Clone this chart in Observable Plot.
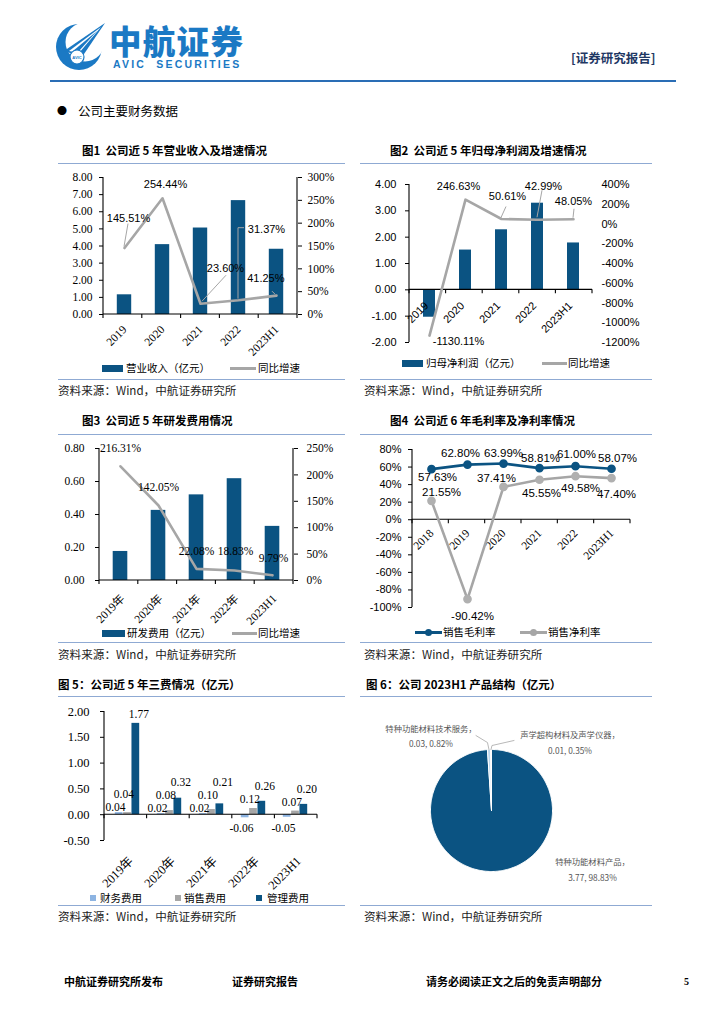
<!DOCTYPE html>
<html lang="zh-CN">
<head>
<meta charset="utf-8">
<script src="https://cdn.jsdelivr.net/npm/d3@7"></script>
<script src="https://cdn.jsdelivr.net/npm/@observablehq/plot@0.6"></script>
<style>
html,body{margin:0;padding:0;background:#fff;}
#page{position:relative;width:724px;height:1024px;overflow:hidden;background:#fff;font-family:"Noto Sans CJK SC","Noto Sans",sans-serif;color:#000;}
</style>
</head>
<body>
<div id="page"></div>
<script>
// ---------------- data ----------------
const years5 = ["2019", "2020", "2021", "2022", "2023H1"];
const revenue = [1.15, 4.08, 5.05, 6.65, 3.81];
const revenueGrowth = [145.51, 254.44, 23.60, 31.37, 41.25];
const revTicks = [0, 1, 2, 3, 4, 5, 6, 7, 8];
const revPctTicks = [0, 50, 100, 150, 200, 250, 300];

const profit = [-1.04, 1.51, 2.28, 3.29, 1.78];
const profitGrowth = [-1130.11, 246.63, 50.61, 42.99, 48.05];
const profitTicks = [-2, -1, 0, 1, 2, 3, 4];
const profitPctTicks = [-1200, -1000, -800, -600, -400, -200, 0, 200, 400];

const rdYears = ["2019年", "2020年", "2021年", "2022年", "2023H1"];
const rdExpense = [0.176, 0.425, 0.519, 0.617, 0.328];
const rdGrowth = [216.31, 142.05, 22.08, 18.83, 9.79];
const rdTicks = [0, 0.2, 0.4, 0.6, 0.8];
const rdPctTicks = [0, 50, 100, 150, 200, 250];

const years6 = ["2018", "2019", "2020", "2021", "2022", "2023H1"];
const grossMargin = [57.63, 62.80, 63.99, 58.81, 61.00, 58.07];
const netMargin = [21.55, -90.42, 37.41, 45.55, 49.58, 47.40];
const marginTicks = [-100, -80, -60, -40, -20, 0, 20, 40, 60, 80];

const feeYears = ["2019年", "2020年", "2021年", "2022年", "2023H1"];
const feeSeries = ["财务费用", "销售费用", "管理费用"];
const financeFee = [0.04, 0.02, 0.02, -0.06, -0.05];
const salesFee = [0.04, 0.08, 0.10, 0.12, 0.07];
const adminFee = [1.77, 0.32, 0.21, 0.26, 0.20];
const feeTicks = [-0.5, 0, 0.5, 1, 1.5, 2];

const productNames = ["特种功能材料产品", "特种功能材料技术服务", "声学超构材料及声学仪器"];
const productValues = [3.77, 0.03, 0.01];
const productShares = [98.83, 0.82, 0.35];

// ---------------- layout / style ----------------
const BLUE = "#0b5382", GREY = "#a6a6a6", LBLUE = "#8db4e2", RULE = "#8faad3";
const SERIF = '"Liberation Serif","Noto Sans CJK SC",serif';
const SANS = '"Liberation Sans","Noto Sans CJK SC",sans-serif';
const CJK = '"Noto Sans CJK SC",sans-serif';
const NS = "http://www.w3.org/2000/svg";
const page = document.getElementById("page");

// pixel offsets of data labels relative to their points [dx, dy]
const c1LabelOff = [[4, -30], [3, -13.5], [25, -35.5], [28, -71], [-10.7, -17]];
const c1LeaderOff = [[[4, -24], [0, -1]], null, [[2, -2], [26, -28]], [[0, -1], [0, -72], [6, -72]], [[-4, -4], [-1, -1]]];
const c2LabelOff = [[29, 6], [-7, -13], [6, -23], [6, -33], [0, -18]];
const c2LeaderOff = [null, null, [[0, -1], [5, -12]], [[0, -2], [5, -29]], [[0, -1], [1, -10]]];
const c3LabelOff = [[0, -17.7], [0, -18], [0, -18], [1, -19], [1, -17]];
const c4GrossOff = [[6, 8], [-7, -11], [0, -10], [1, -10], [1, -11.5], [6, -10.6]];
const c4NetOff = [[10, -8], [5, 17], [-7, -9], [2, 14], [5, 12], [5, 16.6]];
const pieLabelOff = [[99, -3.5], [-58, -15], [79, -8.5]];
const pieLeaderOff = [null, [[0, 0], [-1.5, -7], [-13, -14]], [[0, 0], [1, -4], [23, -9]]];

function label(x, yc, str, css, h = 20) {
  const d = document.createElement("div");
  d.textContent = str;
  d.style.cssText = `position:absolute;left:${x}px;top:${yc - h / 2}px;height:${h}px;line-height:${h}px;white-space:pre;${css || ""}`;
  page.appendChild(d);
  return d;
}
function box(x, y, w, h, color, extra) {
  const d = document.createElement("div");
  d.style.cssText = `position:absolute;left:${x}px;top:${y}px;width:${w}px;height:${h}px;background:${color};${extra || ""}`;
  page.appendChild(d);
  return d;
}
function mount(svg, x, y) {
  svg.style.position = "absolute";
  svg.style.left = x + "px";
  svg.style.top = y + "px";
  page.appendChild(svg);
}
function plotStyle(font, size) {
  return {fontFamily: font, fontSize: size + "px", color: "#000", background: "transparent", overflow: "visible"};
}

// axis lines (left/right/zero-or-bottom) + category tick marks, drawn from the plot's scales
function frameLines({left = false, right = false, zero = null, tick = 4}) {
  return (index, scales, values, dim, ctx) => {
    const doc = (ctx && ctx.document) || document;
    const g = doc.createElementNS(NS, "g");
    const L = dim.marginLeft, R = dim.width - dim.marginRight, T = dim.marginTop, B = dim.height - dim.marginBottom;
    const seg = (x1, y1, x2, y2) => {
      const l = doc.createElementNS(NS, "line");
      l.setAttribute("x1", x1); l.setAttribute("y1", y1); l.setAttribute("x2", x2); l.setAttribute("y2", y2);
      l.setAttribute("stroke", "#000"); l.setAttribute("stroke-width", 1.1);
      g.appendChild(l);
    };
    const y0 = zero == null ? B : scales.y(zero);
    if (left) seg(L, T, L, B);
    if (right) seg(R, T, R, B);
    seg(L, y0, R, y0);
    const dom = scales.x.domain();
    const step = (R - L) / dom.length;
    for (let k = 0; k <= dom.length; k++) seg(L + k * step, y0, L + k * step, y0 + tick);
    return g;
  };
}
// thin leader lines from points to their labels
function leaders(items, color = GREY) {
  return (index, scales, values, dim, ctx) => {
    const doc = (ctx && ctx.document) || document;
    const g = doc.createElementNS(NS, "g");
    const bw = scales.x.bandwidth ? scales.x.bandwidth() / 2 : 0;
    for (const it of items) {
      const cx = scales.x(it.cat) + bw, cy = scales.y(it.v);
      const p = doc.createElementNS(NS, "polyline");
      p.setAttribute("points", it.pts.map(([dx, dy]) => `${cx + dx},${cy + dy}`).join(" "));
      p.setAttribute("fill", "none"); p.setAttribute("stroke", color); p.setAttribute("stroke-width", 1);
      g.appendChild(p);
    }
    return g;
  };
}
function pointLabels(rows, yFn, textFn, offs, opts) {
  return rows.map((r, i) => Plot.text([r], {x: "cat", y: yFn, text: textFn, dx: offs[i][0], dy: offs[i][1], ...opts}));
}
function catLabels(cats, opts) {
  return Plot.text(cats, {x: d => d, rotate: -45, textAnchor: "end", lineAnchor: "top", ...opts});
}

// ---------------- header ----------------
page.insertAdjacentHTML("beforeend", `
<svg width="56" height="58" style="position:absolute;left:52px;top:17px" viewBox="0 0 56 58">
  <circle cx="27" cy="30" r="23" fill="#1b79c4"/>
  <circle cx="33" cy="25" r="19.5" fill="#fff"/>
  <polygon points="12,34 53,6 30,40" fill="#1b79c4"/>
  <polygon points="17,34 49,10 27,36" fill="#fff"/>
  <polygon points="21,34 45,14 27,34" fill="#1b79c4"/>
  <circle cx="25" cy="40" r="7" fill="#fff" stroke="#1b79c4" stroke-width="1.2"/>
  <text x="25" y="41.5" font-size="4" font-family="Liberation Sans" font-weight="700" text-anchor="middle" fill="#1b79c4">AVIC</text>
</svg>`);
label(109, 40, "中航证券", `font-family:${CJK};font-weight:900;font-size:32.5px;color:#1b79c4;letter-spacing:1.3px`, 32);
label(113, 63.5, "AVIC  SECURITIES", `font-family:"Liberation Sans",sans-serif;font-weight:700;font-size:10.5px;color:#1b79c4;letter-spacing:2.2px`, 12);
label(571, 58, "[证券研究报告]", `font-family:${CJK};font-weight:700;font-size:12.5px;color:#1f3864`);
box(50, 80, 626, 2, "#2a6db5");
label(57, 111, "●", `font-size:10px`);
label(78, 111, "公司主要财务数据", `font-family:${CJK};font-size:12.5px`);

// section frames
const titleCss = `font-family:${CJK};font-weight:700;font-size:11.5px`;
const srcCss = `font-family:${CJK};font-size:11.6px;color:#222`;
label(82, 150, "图1  公司近 5 年营业收入及增速情况", titleCss);
label(390, 150, "图2  公司近 5 年归母净利润及增速情况", titleCss);
label(82, 420, "图3  公司近 5 年研发费用情况", titleCss);
label(390, 420, "图4  公司近 6 年毛利率及净利率情况", titleCss);
label(58, 684, "图 5：公司近 5 年三费情况（亿元）", titleCss);
label(366, 684, "图 6：公司 2023H1 产品结构（亿元）", titleCss);
for (const y of [163, 379, 434, 642, 696, 905]) {
  box(58, y, 287, 1.4, RULE);
  box(360, y, 292, 1.4, RULE);
}
for (const y of [389.5, 653.5, 915.5]) {
  label(58, y, "资料来源：Wind，中航证券研究所", srcCss);
  label(364, y, "资料来源：Wind，中航证券研究所", srcCss);
}

// legends
const legCss = `font-family:${CJK};font-size:10.5px`;
function legBar(x, y, w, color, text, tx) { box(x, y - 3.5, w, 7, color); label(tx, y, text, legCss); }
function legLine(x, y, w, color, text, tx, dot) {
  box(x, y - 1.5, w, 3, color);
  if (dot) box(x + w / 2 - 3.5, y - 3.5, 7, 7, color, "border-radius:50%");
  label(tx, y, text, legCss);
}
legBar(102, 368, 21, BLUE, "营业收入（亿元）", 126);
legLine(230, 368, 26, GREY, "同比增速", 258);
legBar(402, 363, 21, BLUE, "归母净利润（亿元）", 426);
legLine(542, 363, 25, GREY, "同比增速", 568);
legBar(102, 633, 23, BLUE, "研发费用（亿元）", 127);
legLine(232, 633, 25, GREY, "同比增速", 258);
legLine(415, 632, 27, BLUE, "销售毛利率", 443, true);
legLine(520, 632, 27, GREY, "销售净利率", 548, true);
box(90, 895, 6, 6, LBLUE); label(100, 898, "财务费用", legCss);
box(175, 895, 6, 6, GREY); label(184, 898, "销售费用", legCss);
box(256, 895, 6, 6, BLUE); label(267, 898, "管理费用", legCss);

// footer
const footCss = `font-family:${CJK};font-weight:700;font-size:11px`;
label(64, 981, "中航证券研究所发布", footCss);
label(232, 981, "证券研究报告", footCss);
label(426, 981, "请务必阅读正文之后的免责声明部分", footCss);
label(684, 982, "5", `font-family:${SERIF};font-weight:700;font-size:10px`);

// ---------------- chart 1 ----------------
const c1 = years5.map((cat, i) => ({cat, v: revenue[i], p: revenueGrowth[i]}));
const c1L = p => p * 8 / 300, c1P = v => v * 300 / 8;
mount(Plot.plot({
  width: 290, height: 195, marginLeft: 43, marginRight: 53, marginTop: 12, marginBottom: 46,
  style: plotStyle(SERIF, 11.5),
  x: {type: "band", domain: years5, padding: 0, axis: null},
  y: {domain: [0, 8], axis: null},
  marks: [
    Plot.barY(c1, {x: "cat", y: "v", fill: BLUE, insetLeft: 11.8, insetRight: 11.8}),
    frameLines({left: true, right: true}),
    Plot.axisY(revTicks, {anchor: "left", tickFormat: d => d.toFixed(2), tickSize: 4, tickPadding: 7, label: null}),
    Plot.axisY(revPctTicks.map(c1L), {anchor: "right", tickFormat: v => Math.round(c1P(v)) + "%", tickSize: 4, tickPadding: 6, label: null}),
    Plot.line(c1, {x: "cat", y: d => c1L(d.p), stroke: GREY, strokeWidth: 2.6}),
    leaders(c1.map((d, i) => ({cat: d.cat, v: c1L(d.p), pts: c1LeaderOff[i]})).filter(d => d.pts)),
    ...pointLabels(c1, d => c1L(d.p), d => d.p.toFixed(2) + "%", c1LabelOff, {fontFamily: SANS, fontSize: 11}),
    catLabels(years5, {frameAnchor: "bottom", dx: -3, dy: 10})
  ]
}), 60, 165);

// ---------------- chart 2 ----------------
const c2 = years5.map((cat, i) => ({cat, v: profit[i], p: profitGrowth[i]}));
const c2L = p => -2 + (p + 1200) * 6 / 1600, c2P = v => (v + 2) * 1600 / 6 - 1200;
mount(Plot.plot({
  width: 290, height: 195, marginLeft: 49, marginRight: 58, marginTop: 19, marginBottom: 18,
  style: plotStyle(SANS, 11),
  x: {type: "band", domain: years5, padding: 0, axis: null},
  y: {domain: [-2, 4], axis: null},
  marks: [
    Plot.barY(c2, {x: "cat", y: "v", fill: BLUE, insetLeft: 12, insetRight: 12}),
    frameLines({left: true, zero: 0}),
    Plot.axisY(profitTicks, {anchor: "left", tickFormat: d => d.toFixed(2), tickSize: 4, tickPadding: 9, label: null}),
    Plot.axisY(profitPctTicks.map(c2L), {anchor: "right", tickFormat: v => Math.round(c2P(v)) + "%", tickSize: 0, tickPadding: 9, label: null}),
    catLabels(years5, {y: () => 0, dx: -6, dy: 11}),
    Plot.line(c2, {x: "cat", y: d => c2L(d.p), stroke: GREY, strokeWidth: 2.6}),
    leaders(c2.map((d, i) => ({cat: d.cat, v: c2L(d.p), pts: c2LeaderOff[i]})).filter(d => d.pts)),
    ...pointLabels(c2, d => c2L(d.p), d => d.p.toFixed(2) + "%", c2LabelOff, {fontFamily: SANS, fontSize: 11})
  ]
}), 360, 165);

// ---------------- chart 3 ----------------
const c3 = rdYears.map((cat, i) => ({cat, v: rdExpense[i], p: rdGrowth[i]}));
const c3L = p => p * 0.8 / 250, c3P = v => v * 250 / 0.8;
mount(Plot.plot({
  width: 290, height: 190, marginLeft: 39, marginRight: 57, marginTop: 12, marginBottom: 46,
  style: plotStyle(SERIF, 11.5),
  x: {type: "band", domain: rdYears, padding: 0, axis: null},
  y: {domain: [0, 0.8], axis: null},
  marks: [
    Plot.barY(c3, {x: "cat", y: "v", fill: BLUE, insetLeft: 11.7, insetRight: 11.7}),
    frameLines({left: true, right: true}),
    Plot.axisY(rdTicks, {anchor: "left", tickFormat: d => d.toFixed(2), tickSize: 4, tickPadding: 11, label: null}),
    Plot.axisY(rdPctTicks.map(c3L), {anchor: "right", tickFormat: v => Math.round(c3P(v)) + "%", tickSize: 4, tickPadding: 9, label: null}),
    Plot.line(c3, {x: "cat", y: d => c3L(d.p), stroke: GREY, strokeWidth: 2.6}),
    ...pointLabels(c3, d => c3L(d.p), d => d.p.toFixed(2) + "%", c3LabelOff, {fontFamily: SERIF, fontSize: 11.5}),
    catLabels(rdYears, {frameAnchor: "bottom", dx: -1, dy: 13})
  ]
}), 60, 436);

// ---------------- chart 4 ----------------
const c4g = years6.map((cat, i) => ({cat, v: grossMargin[i]}));
const c4n = years6.map((cat, i) => ({cat, v: netMargin[i]}));
mount(Plot.plot({
  width: 290, height: 190, marginLeft: 52, marginRight: 20, marginTop: 13, marginBottom: 19,
  style: plotStyle(SANS, 11),
  x: {type: "band", domain: years6, padding: 0, axis: null},
  y: {domain: [-100, 80], axis: null},
  marks: [
    frameLines({left: true, zero: 0}),
    Plot.axisY(marginTicks, {anchor: "left", tickFormat: d => d + "%", tickSize: 4, tickPadding: 7, label: null}),
    catLabels(years6, {y: () => 0, dx: -3, dy: 8.5, fontFamily: SERIF, fontSize: 11.5}),
    Plot.line(c4n, {x: "cat", y: "v", stroke: GREY, strokeWidth: 2.6}),
    Plot.dot(c4n, {x: "cat", y: "v", r: 3.6, fill: "#b0b0b0", stroke: "#b0b0b0"}),
    Plot.line(c4g, {x: "cat", y: "v", stroke: BLUE, strokeWidth: 2.6}),
    Plot.dot(c4g, {x: "cat", y: "v", r: 3.6, fill: BLUE, stroke: BLUE}),
    ...pointLabels(c4g, "v", d => d.v.toFixed(2) + "%", c4GrossOff, {fontFamily: SANS, fontSize: 11.5}),
    ...pointLabels(c4n, "v", d => d.v.toFixed(2) + "%", c4NetOff, {fontFamily: SANS, fontSize: 11.5})
  ]
}), 360, 436);

// ---------------- chart 5 ----------------
const feeValues = [financeFee, salesFee, adminFee];
const feeColors = [LBLUE, GREY, BLUE];
const c5Dims = {width: 290, height: 190, marginLeft: 44, marginRight: 33, marginTop: 12, marginBottom: 49};
const c5Domain = [-0.5, 2];
const c5PxPerUnit = (c5Dims.height - c5Dims.marginTop - c5Dims.marginBottom) / (c5Domain[1] - c5Domain[0]);
const c5Step = (c5Dims.width - c5Dims.marginLeft - c5Dims.marginRight) / feeYears.length, c5Bar = 8.33;
const c5LabelDx = [-3.7, -3.6, 3];
// label placement: above each bar, stacked so neighbouring labels in a group do not collide (pixels)
const c5Gap = 13, c5Above = [5, 9, 9], c5Below = 11;
const c5Labels = [];
feeYears.forEach((cat, i) => {
  let prev = null;
  feeValues.forEach((arr, k) => {
    const v = arr[i];
    let up;
    if (v >= 0) {
      up = v * c5PxPerUnit + c5Above[k];
      if (prev != null) up = Math.max(up, prev + c5Gap);
      prev = up;
    } else {
      up = v * c5PxPerUnit - c5Below;
    }
    c5Labels.push({cat, k, v, ly: up / c5PxPerUnit});
  });
});
const c5Bars = [], c5Texts = [];
feeValues.forEach((arr, k) => {
  const rows = feeYears.map((cat, i) => ({cat, v: arr[i]}));
  const insetLeft = c5Step / 2 - 1.5 * c5Bar + k * c5Bar;
  const insetRight = c5Step - insetLeft - c5Bar;
  c5Bars.push(Plot.barY(rows, {x: "cat", y: "v", fill: feeColors[k], insetLeft, insetRight}));
  c5Texts.push(Plot.text(c5Labels.filter(d => d.k === k), {x: "cat", y: "ly", text: d => d.v.toFixed(2),
    dx: (k - 1) * c5Bar + c5LabelDx[k], fontSize: 11.5}));
});
mount(Plot.plot({
  ...c5Dims,
  style: plotStyle(SERIF, 12),
  x: {type: "band", domain: feeYears, padding: 0, axis: null},
  y: {domain: c5Domain, axis: null},
  marks: [
    ...c5Bars,
    frameLines({left: true, zero: 0}),
    ...c5Texts,
    Plot.axisY(feeTicks, {anchor: "left", tickFormat: d => d.toFixed(2), tickSize: 4, tickPadding: 11, label: null, fontSize: 12.5}),
    catLabels(feeYears, {frameAnchor: "bottom", dx: 0, dy: 15, fontSize: 12.5})
  ]
}), 60, 699);

// ---------------- chart 6 (pie) ----------------
const arcs = d3.pie().sort(null).value(d => d)(productValues);
const pieColors = [BLUE, "#bdd7ee", "#a6a6a6"];
const pieR = 61;
const slices = arcs.map((a, k) => {
  const m = Math.max(2, Math.ceil((a.endAngle - a.startAngle) / 0.02));
  const pts = [{x: 0, y: 0}];
  for (let t = 0; t <= m; t++) {
    const ang = a.startAngle + (a.endAngle - a.startAngle) * t / m;
    pts.push({x: Math.sin(ang), y: Math.cos(ang)});
  }
  pts.push({x: 0, y: 0});
  return pts;
});
const pieInfo = arcs.map((a, k) => {
  const mid = (a.startAngle + a.endAngle) / 2;
  return {x: Math.sin(mid), y: Math.cos(mid), k,
    text: `${productNames[k]}，\n${productValues[k].toFixed(2)}, ${productShares[k].toFixed(2)}%`};
});
const pieLeaders = pieInfo.filter(d => pieLeaderOff[d.k]).map(d =>
  pieLeaderOff[d.k].map(([dx, dy]) => ({x: d.x + dx / pieR, y: d.y - dy / pieR})));
mount(Plot.plot({
  width: 290, height: 200, marginLeft: 70, marginRight: 98, marginTop: 50, marginBottom: 28,
  style: plotStyle(CJK, 8.3),
  x: {domain: [-1, 1], axis: null},
  y: {domain: [-1, 1], axis: null},
  marks: [
    ...slices.map((pts, k) => Plot.line(pts, {x: "x", y: "y", fill: pieColors[k], stroke: "#fff", strokeWidth: 1})),
    ...pieLeaders.map(pts => Plot.line(pts, {x: "x", y: "y", stroke: "#a6a6a6", strokeWidth: 0.8})),
    ...pieInfo.map(d => Plot.text([d], {x: "x", y: "y", text: "text", dx: pieLabelOff[d.k][0], dy: pieLabelOff[d.k][1], fill: "#555", lineHeight: 1.85}))
  ]
}), 360, 699);
</script>
</body>
</html>
